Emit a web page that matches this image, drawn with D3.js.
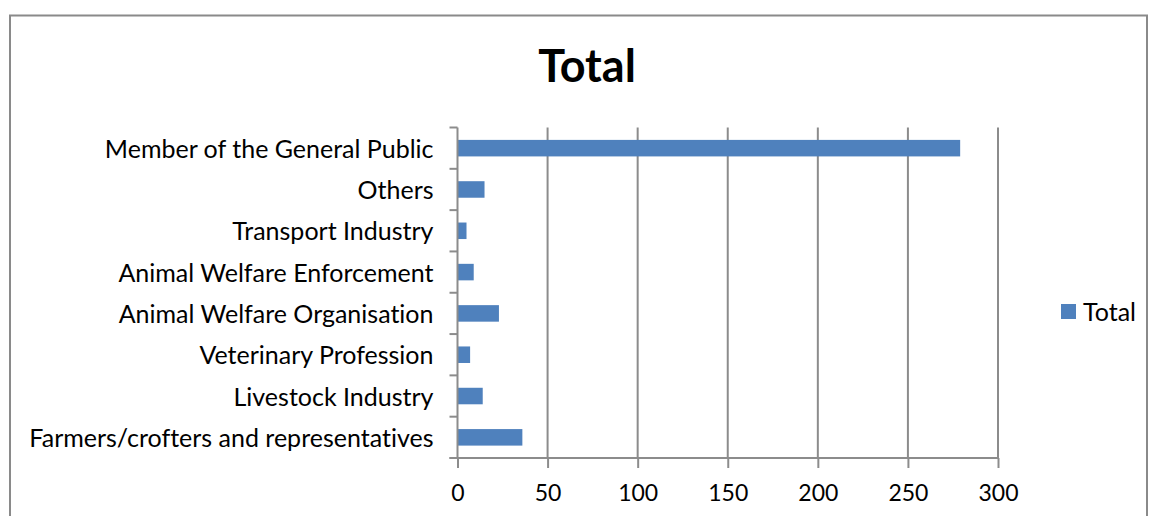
<!DOCTYPE html>
<html>
<head>
<meta charset="utf-8">
<script src="https://cdn.jsdelivr.net/npm/d3@7"></script>
<style>
  html, body { margin: 0; padding: 0; background: #fff; }
  svg { display: block; }
  text { font-family: Lato, "Open Sans", sans-serif; fill: #000; font-variant-ligatures: none; }
</style>
</head>
<body>
<svg id="chart" width="1151" height="516"></svg>
<script>
// Respondent groups, listed top to bottom
const categories = [
  "Member of the General Public",
  "Others",
  "Transport Industry",
  "Animal Welfare Enforcement",
  "Animal Welfare Organisation",
  "Veterinary Profession",
  "Livestock Industry",
  "Farmers/crofters and representatives"
];
const totals = [279, 15, 5, 9, 23, 7, 14, 36];
const xTicks = [0, 50, 100, 150, 200, 250, 300];
const seriesName = "Total";

const svg = d3.select("#chart");
const barColor = "#4F81BD";
const gridColor = "#8c8c8c";

// Outer chart frame
svg.append("rect")
  .attr("x", 10).attr("y", 15.5)
  .attr("width", 1137).attr("height", 540)
  .attr("fill", "none").attr("stroke", "#8a8a8a").attr("stroke-width", 2);

// Title
svg.append("text")
  .attr("x", 587).attr("y", 82)
  .attr("text-anchor", "middle")
  .style("font-size", "45px").style("font-weight", "bold")
  .text(seriesName);

const plot = { left: 457.5, right: 998, top: 127.5, bottom: 458 };

const x = d3.scaleLinear().domain([0, 300]).range([plot.left, plot.right]);
const y = d3.scaleBand().domain(categories).range([plot.top, plot.bottom])
  .paddingInner(0.6).paddingOuter(0.3);

// Vertical gridlines
svg.append("g").selectAll("line")
  .data(xTicks.filter(d => d !== 0))
  .join("line")
  .attr("x1", d => x(d)).attr("x2", d => x(d))
  .attr("y1", plot.top).attr("y2", plot.bottom)
  .attr("stroke", gridColor).attr("stroke-width", 2);

// Bars
svg.append("g").selectAll("rect")
  .data(categories.map((c, i) => ({ c, v: totals[i] })))
  .join("rect")
  .attr("x", x(0))
  .attr("y", d => y(d.c))
  .attr("width", d => x(d.v) - x(0))
  .attr("height", y.bandwidth())
  .attr("fill", barColor);

// Bottom value axis
const xAxis = svg.append("g")
  .attr("transform", `translate(0,${plot.bottom})`)
  .call(d3.axisBottom(x).tickValues(xTicks).tickSize(10).tickPadding(17).tickSizeOuter(0));
xAxis.select(".domain").attr("stroke", gridColor).attr("stroke-width", 2)
  .attr("d", `M${plot.left - 8},0H${plot.right}`);
xAxis.selectAll(".tick line").attr("stroke", gridColor).attr("stroke-width", 2);
xAxis.selectAll(".tick text").style("font-size", "23px").attr("fill", "#000");

// Left category axis: labels at band centres, tick marks on band boundaries
const yAxis = svg.append("g")
  .attr("transform", `translate(${plot.left},0)`)
  .call(d3.axisLeft(y).tickSize(0).tickPadding(24));
yAxis.select(".domain").attr("stroke", gridColor).attr("stroke-width", 2)
  .attr("d", `M0,${plot.top}V${plot.bottom}`);
yAxis.selectAll(".tick text").style("font-size", "25px").attr("fill", "#000")
  .attr("dy", "0.38em");

const boundaries = categories.map(c => y(c) - y.step() * y.paddingInner() / 2);
boundaries.push(plot.bottom);
yAxis.append("g").selectAll("line")
  .data(boundaries)
  .join("line")
  .attr("x1", -8).attr("x2", 0)
  .attr("y1", d => d).attr("y2", d => d)
  .attr("stroke", gridColor).attr("stroke-width", 2);

// Legend
const legend = svg.append("g").attr("transform", "translate(1061,304)");
legend.append("rect").attr("width", 15).attr("height", 15).attr("fill", barColor);
legend.append("text").attr("x", 22).attr("y", 8).attr("dy", "0.35em")
  .style("font-size", "25px").text(seriesName);
</script>
</body>
</html>
